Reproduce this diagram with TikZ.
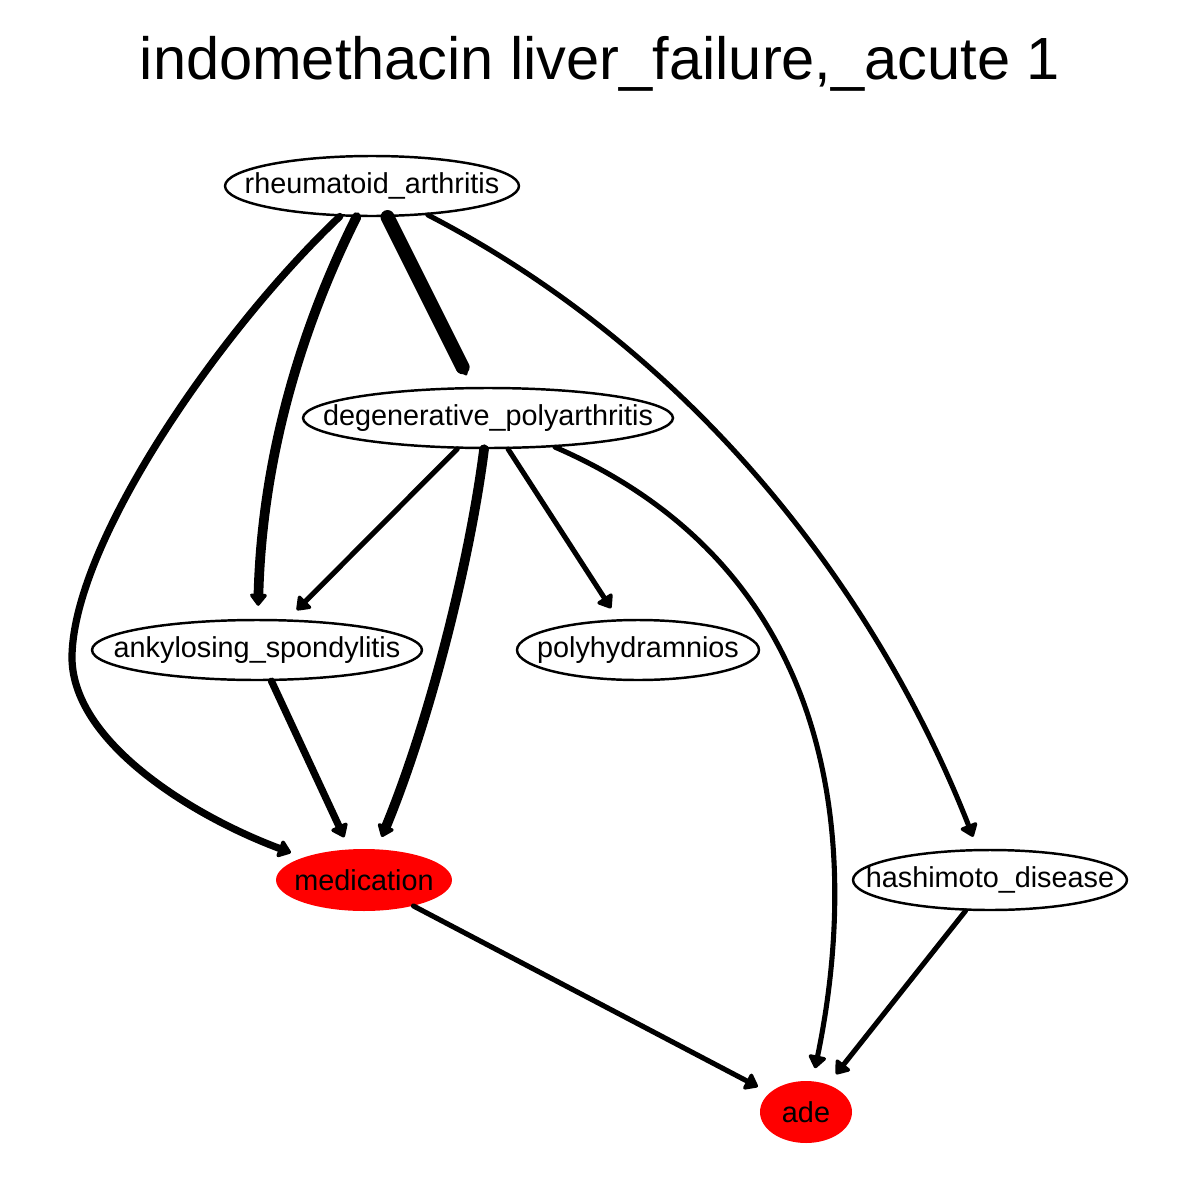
\documentclass[tikz,border=0pt]{standalone}
\usepackage{fontspec}
\setmainfont{Liberation Sans}
\usetikzlibrary{arrows.meta,shapes.geometric}

\tikzset{
  dis/.style={ellipse, draw, line width=1.4pt, inner sep=0pt, minimum height=1.2cm, label={[font=\fontsize{16.4}{18}\selectfont]center:#1}},
  target/.style={ellipse, fill=red, inner sep=0pt, minimum height=1.24cm, label={[font=\fontsize{16.4}{18}\selectfont]center:#1}},
  edge/.style={draw, line cap=round, shorten >=0.26cm},
  e1/.style={edge, line width=2.9pt, -{Triangle[round,length=8pt,width=11.5pt]}},
  e2/.style={edge, line width=4.1pt, -{Triangle[round,length=8pt,width=11.5pt]}},
  e3/.style={edge, line width=5.5pt, -{Triangle[round,length=7.5pt,width=11pt]}},
  e4/.style={edge, line width=8pt, -{Triangle[round,length=6pt,width=9pt]}},
}

\begin{document}
\begin{tikzpicture}[x=0.02cm, y=-0.02cm]
    \fill[white] (0,0) rectangle (1200,1200);
    \useasboundingbox (0,0) rectangle (1200,1200);

    \node[font=\fontsize{33.9}{38}\selectfont] (title) at (600,64) {indomethacin liver\_failure,\_acute 1};

    % === nodes ===
    \node[dis=rheumatoid\_arthritis, minimum width=5.88cm] (ra) at (372,186) {};
    \node[dis=degenerative\_polyarthritis, minimum width=7.4cm] (dp) at (488,418) {};
    \node[dis=ankylosing\_spondylitis, minimum width=6.6cm] (as) at (257,650) {};
    \node[dis=polyhydramnios, minimum width=4.84cm] (ph) at (638,650) {};
    \node[target=medication, minimum width=3.52cm] (med) at (364,880) {};
    \node[dis=hashimoto\_disease, minimum width=5.48cm] (hd) at (990,880) {};
    \node[target=ade, minimum width=1.84cm] (ade) at (806,1112) {};

    % === edges from rheumatoid_arthritis ===
    \draw[e4] (ra) -- (dp);
    \draw[e3] (ra) .. controls (300,330) and (262,460) .. (as);
    \draw[e2] (ra) .. controls (220,330) and (75,540) .. (72,655)
                   .. controls (70,740) and (190,815) .. (med);
    \draw[e1] (ra) .. controls (702,357) and (880,600) .. (hd);

    % === edges from degenerative_polyarthritis ===
    \draw[e1] (dp) -- (as);
    \draw[e3] (dp) .. controls (470,560) and (430,720) .. (med);
    \draw[e1] (dp) -- (ph);
    \draw[e1] (dp) .. controls (870,584) and (850,900) .. (ade);

    % === remaining edges ===
    \draw[e2] (as) -- (med);
    \draw[e1] (med) -- (ade);
    \draw[e1] (hd) -- (ade);
\end{tikzpicture}
\end{document}
